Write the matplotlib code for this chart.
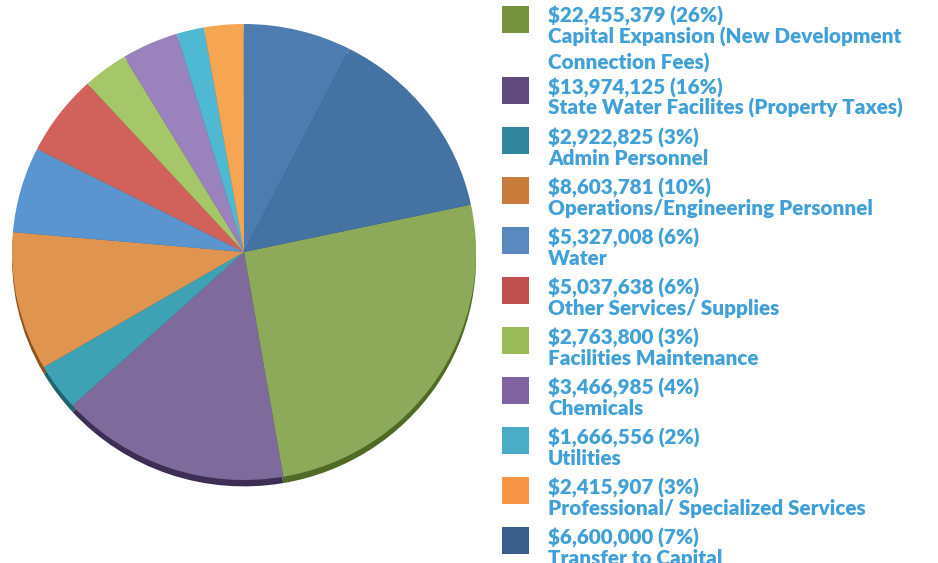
import matplotlib
matplotlib.use("Agg")
import matplotlib.pyplot as plt
from matplotlib.patches import Rectangle

# ---- data ----
categories = [
    "Capital Expansion (New Development\nConnection Fees)",
    "State Water Facilites (Property Taxes)",
    "Admin Personnel",
    "Operations/Engineering Personnel",
    "Water",
    "Other Services/ Supplies",
    "Facilities Maintenance",
    "Chemicals",
    "Utilities",
    "Professional/ Specialized Services",
    "Transfer to Capital",
]
amounts = [22455379, 13974125, 2922825, 8603781, 5327008, 5037638,
           2763800, 3466985, 1666556, 2415907, 6600000]
percents = ["26%", "16%", "3%", "10%", "6%", "6%", "3%", "4%", "2%", "3%", "7%"]
# slice whose legend entry lies outside the picture (estimated from its angle)
hidden_amount = 12400000

legend_colors = ["#76923C", "#604A7B", "#31859C", "#C97B3C", "#5A88C0", "#C0504D",
                 "#9BBB59", "#8064A2", "#4BACC6", "#F79646", "#3A5E8A"]
pie_colors = ["#8DA95A", "#7E6A9B", "#3EA2B4", "#DF954F", "#5B95D0", "#D0625B",
              "#A5C76A", "#9A82BD", "#4FB8D3", "#F6A652", "#4C7CB0", "#4472A3"]
shadow_colors = ["#4E6A25", "#3D2E55", "#22606E", "#8A5520", "#345C88", "#7A302C",
                 "#6A8A35", "#5A4578", "#2F7A8C", "#A86020", "#2C4C72", "#2C4C72"]

text_color = "#41A0D8"

W, H = 938, 563
fig = plt.figure(figsize=(W / 100, H / 100), dpi=100)

# pie axes (pixel layout): slightly flattened ellipse
cx, cy, rx, ry = 244, 252, 232, 228
ax = fig.add_axes([(cx - rx) / W, (H - (cy + ry)) / H, 2 * rx / W, 2 * ry / H])
ax.axis("off")

values = amounts + [hidden_amount]
# 3D rim / shadow
ax.pie(values, colors=shadow_colors, startangle=12, counterclock=False,
       radius=1.0, center=(0.0, -0.028), wedgeprops=dict(linewidth=0),
       normalize=True, frame=False)
ax.pie(values, colors=pie_colors, startangle=12, counterclock=False,
       radius=1.0, center=(0.0, 0.0), wedgeprops=dict(linewidth=0),
       normalize=True, frame=False)
ax.set_aspect("auto")
ax.set_xlim(-1, 1)
ax.set_ylim(-1, 1)

# legend (pixel layout)
font = dict(family=["Lato", "DejaVu Sans"], weight="heavy", size=14.9, color=text_color)
sq_x, sq_size = 502, 27
text_x = 548
y_top = 6
for cat, amt, pct, col in zip(categories, amounts, percents, legend_colors):
    sq = Rectangle((sq_x / W, (H - y_top - sq_size) / H), sq_size / W, sq_size / H,
                   transform=fig.transFigure, facecolor=col, edgecolor="none")
    fig.patches.append(sq)
    lines = [f"${amt:,} ({pct})"] + cat.split("\n")
    offsets = [17, 38, 64]
    for ln, off in zip(lines, offsets):
        fig.text(text_x / W, (H - (y_top + off)) / H, ln, ha="left", va="baseline", **font)
    y_top += 50 + 21 * (len(lines) - 2)

fig.savefig("out.png", dpi=100)
